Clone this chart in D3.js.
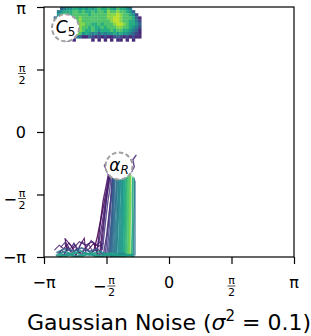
<!DOCTYPE html>
<html>
<head>
<meta charset="utf-8">
<script src="https://cdn.jsdelivr.net/npm/d3@7"></script>
<style>
  body { margin: 0; background: #fff; }
  text { font-family: "DejaVu Sans", sans-serif; }
</style>
</head>
<body>
<div id="chart"></div>
<script>
const svgWidth = 311;
const svgHeight = 336;

// angles in degrees, axis labelled in multiples of pi
const tickValues = [-180, -90, 0, 90, 180];
const tickLabels = [["−", "π"], ["−", "π", "2"], ["", "0"], ["", "π", "2"], ["", "π"]];

// C5 density (rows from psi = 180 downward, 4.5 deg bins, phi from -166)
const densityPhi0 = -166;
const densityStep = 4.5;
const densityRows = [
  "0034556656565676676576654000",
  "0456667767667677687787765300",
  "0567667777767777788898776520",
  "3566777787777777788998777631",
  "4667767787777777778998776642",
  "4667778888776676777899876653",
  "3667787987767667677788776542",
  "2567789987667656667677665431",
  "0346778875654535455656554321",
  "0023455431132121211232121211",
  "0000101000001010101011010100"
];

// trajectories [phi, psi] and their colour position (0 = early / purple)
const jitterTraj = [
  [[-160,-178],[-155,-170],[-150,-175],[-145,-165],[-140,-176],[-133,-168],[-126,-177],[-120,-166],[-113,-175],[-106,-170],[-100,-178]],
  [[-158,-172],[-152,-178],[-147,-168],[-141,-172],[-136,-162],[-130,-175],[-122,-170],[-116,-161],[-110,-172],[-104,-167],[-96,-176]],
  [[-150,-160],[-146,-172],[-150,-153],[-140,-165],[-134,-178],[-128,-163],[-122,-153],[-120,-172],[-115,-168],[-108,-160],[-103,-175]],
  [[-156,-166],[-149,-158],[-143,-170],[-137,-160],[-131,-169],[-125,-158],[-118,-165],[-112,-156],[-106,-164],[-99,-158],[-96,-168]],
  [[-165,-170],[-158,-163],[-152,-168],[-144,-160],[-138,-168],[-129,-158],[-120,-163],[-110,-158],[-102,-165],[-94,-160]]
];
const jitterColor = [0.02, 0.08, 0.0, 0.12, 0.05];

const bundleTraj = [
  [[-108,-170],[-103,-150],[-97,-120],[-92,-95],[-88,-75],[-86,-55]],
  [[-104,-178],[-100,-140],[-95,-100],[-90,-75],[-86,-55]],
  [[-100,-180],[-97,-150],[-92,-110],[-88,-80],[-85,-60]],
  [[-98,-175],[-94,-135],[-90,-95],[-86,-70],[-84,-50]],
  [[-102,-165],[-96,-130],[-93,-110],[-90,-88],[-87,-62],[-90,-50]],
  [[-95,-180],[-90,-150],[-86,-115],[-83,-90],[-80,-62],[-88,-45]],
  [[-92,-178],[-88,-140],[-84,-100],[-82,-70],[-79,-50]],
  [[-96,-170],[-91,-125],[-88,-100],[-85,-80],[-83,-58]],
  [[-90,-180],[-87,-150],[-84,-110],[-82,-75],[-81,-52]],
  [[-88,-180],[-84,-140],[-81,-100],[-80,-65],[-78,-50]],
  [[-86,-176],[-84,-150],[-82,-120],[-81,-85],[-80,-56]],
  [[-85,-178],[-82,-130],[-80,-90],[-78,-60]],
  [[-84,-180],[-83,-160],[-81,-125],[-80,-95],[-79,-58]],
  [[-83,-180],[-81,-145],[-79,-105],[-78,-75],[-77,-54]],
  [[-82,-180],[-80,-140],[-77,-100],[-76,-70],[-75,-52]],
  [[-80,-176],[-78,-120],[-75,-80],[-74,-55]],
  [[-79,-180],[-78,-155],[-76,-115],[-75,-85],[-75,-57]],
  [[-78,-180],[-76,-140],[-73,-100],[-72,-60]],
  [[-77,-178],[-75,-150],[-74,-110],[-73,-70],[-74,-55]],
  [[-76,-180],[-75,-160],[-73,-125],[-72,-90],[-72,-58]],
  [[-75,-179],[-74,-130],[-71,-90],[-70,-55]],
  [[-73,-180],[-72,-145],[-71,-105],[-70,-70],[-69,-54]],
  [[-72,-180],[-71,-140],[-69,-100],[-68,-58]],
  [[-71,-178],[-70,-155],[-69,-120],[-68,-85],[-67,-57]],
  [[-70,-178],[-68,-130],[-67,-80],[-66,-55]],
  [[-69,-180],[-68,-160],[-67,-125],[-67,-90],[-66,-60]],
  [[-68,-180],[-67,-150],[-66,-110],[-66,-72],[-65,-56]],
  [[-67,-180],[-66,-140],[-65,-100],[-64,-60]],
  [[-51,-180],[-51,-140],[-50,-100],[-50,-66]],
  [[-49,-178],[-49,-150],[-49,-110],[-49,-70]],
  [[-66,-180],[-65,-155],[-64,-120],[-64,-85],[-63,-58]],
  [[-65,-178],[-64,-150],[-63,-110],[-62,-70],[-62,-54]],
  [[-64,-180],[-63,-140],[-62,-90],[-61,-56]],
  [[-63,-180],[-62,-160],[-62,-125],[-61,-90],[-61,-60]],
  [[-62,-180],[-61,-150],[-61,-100],[-60,-62]],
  [[-61,-179],[-60,-120],[-60,-80],[-59,-58]],
  [[-60,-180],[-59,-155],[-59,-115],[-58,-80],[-58,-62]],
  [[-59,-180],[-58,-150],[-58,-105],[-57,-60]],
  [[-58,-180],[-57,-140],[-57,-100],[-56,-60]],
  [[-57,-180],[-57,-160],[-56,-120],[-56,-85],[-56,-64]],
  [[-56,-178],[-56,-130],[-55,-90],[-55,-62]],
  [[-54,-180],[-53,-145],[-53,-100],[-52,-64]],
  [[-53,-180],[-53,-160],[-52,-120],[-52,-85],[-52,-66]],
  // fringe around alpha_R
  [[-90,-55],[-93,-48],[-88,-42]],
  [[-54,-58],[-50,-50],[-52,-40],[-47,-33]],
  [[-84,-50],[-80,-40],[-76,-36]]
];
const bundleColor = [
  0.0, 0.03, 0.05, 0.08, 0.1, 0.12, 0.14, 0.16,
  0.2, 0.24, 0.27, 0.3, 0.31, 0.33, 0.36, 0.38, 0.39,
  0.4, 0.43, 0.44, 0.46, 0.48, 0.5, 0.51, 0.52, 0.53, 0.55, 0.57, 0.42, 0.4,
  0.58, 0.6, 0.63, 0.64, 0.66, 0.7, 0.71, 0.72, 0.75, 0.78, 0.8, 0.68, 0.62,
  0.05, 0.1, 0.15
];

const stripTraj = [
  [[-162,-174],[-150,-168],[-138,-172],[-126,-167],[-114,-172],[-102,-168]],
  [[-158,-179],[-145,-175],[-132,-179],[-120,-174],[-106,-178],[-92,-175],[-78,-179],[-64,-174]],
  [[-163,-178],[-150,-172],[-140,-176],[-128,-171],[-115,-177],[-100,-172],[-85,-178],[-70,-175],[-55,-178]],
  [[-160,-176],[-148,-179],[-136,-173],[-124,-178],[-112,-174],[-98,-179],[-84,-174],[-70,-179],[-52,-176]],
  [[-161,-180],[-146,-177],[-130,-180],[-116,-176],[-100,-180],[-86,-177],[-72,-180],[-58,-177],[-50,-179]]
];
const stripColor = [0.3, 0.4, 0.5, 0.6, 0.55];

// state markers
const states = [
  {name: "C", sub: "5", subItalic: false, phi: -149, psi: 150},
  {name: "α", sub: "R", subItalic: true, phi: -72, psi: -49}
];

const x = d3.scaleLinear().domain([-180, 180]).range([44, 294]);
const y = d3.scaleLinear().domain([-180, 180]).range([257, 7]);

const svg = d3.select("#chart").append("svg")
    .attr("width", svgWidth)
    .attr("height", svgHeight);

svg.append("clipPath").attr("id", "plot")
  .append("rect")
    .attr("x", 44).attr("y", 7).attr("width", 250).attr("height", 250);

const plot = svg.append("g").attr("clip-path", "url(#plot)");

// density cells
const cells = [];
densityRows.forEach((row, r) => {
  row.split("").forEach((ch, c) => {
    const v = +ch;
    if (v > 0) cells.push({phi: densityPhi0 + c * densityStep, psi: 180 - r * densityStep, v: v});
  });
});
const cw = x(densityStep) - x(0);
plot.selectAll("rect.cell")
  .data(cells)
  .enter()
  .append("rect")
    .attr("class", "cell")
    .attr("x", d => x(d.phi))
    .attr("y", d => y(d.psi))
    .attr("width", cw + 0.3)
    .attr("height", cw + 0.3)
    .attr("fill", d => d3.interpolateViridis(Math.min(0.9, d.v / 10 + 0.02)));

const line = d3.line().x(d => x(d[0])).y(d => y(d[1]));

function drawTraj(cls, data, colors, width) {
  plot.selectAll("path." + cls)
    .data(data)
    .enter()
    .append("path")
      .attr("class", cls)
      .attr("d", line)
      .attr("fill", "none")
      .attr("stroke", (d, i) => d3.interpolateViridis(colors[i]))
      .attr("stroke-width", width)
      .attr("stroke-opacity", 0.85);
}
drawTraj("jitter", jitterTraj, jitterColor, 1.1);
drawTraj("bundle", bundleTraj, bundleColor, 1.4);
drawTraj("strip", stripTraj, stripColor, 1.8);

// state circles
const st = svg.selectAll("g.state")
  .data(states)
  .enter()
  .append("g")
    .attr("class", "state")
    .attr("transform", d => `translate(${x(d.phi)},${y(d.psi)})`);

st.append("circle")
    .attr("r", 13.5)
    .attr("fill", "#fff")
    .attr("stroke", "#a0a0a0")
    .attr("stroke-width", 2)
    .attr("stroke-dasharray", "4.5,2.5");

const lbl = st.append("text")
    .attr("text-anchor", "middle")
    .attr("y", 5)
    .attr("font-size", 17);
lbl.append("tspan")
    .attr("font-style", "italic")
    .text(d => d.name);
lbl.append("tspan")
    .attr("font-size", 12)
    .attr("dy", 3)
    .attr("font-style", d => d.subItalic ? "italic" : "normal")
    .text(d => d.sub);

// spines
svg.append("rect")
    .attr("x", 44).attr("y", 7).attr("width", 250).attr("height", 250)
    .attr("fill", "none")
    .attr("stroke", "#000")
    .attr("stroke-width", 1.2);

// axes with tick marks only
const axX = svg.append("g")
    .attr("transform", "translate(0,257)")
    .call(d3.axisBottom(x).tickValues(tickValues).tickSize(7).tickFormat(""));
const axY = svg.append("g")
    .attr("transform", "translate(44,0)")
    .call(d3.axisLeft(y).tickValues(tickValues).tickSize(7).tickFormat(""));
[axX, axY].forEach(a => {
  a.select(".domain").remove();
  a.selectAll(".tick line").attr("stroke", "#000").attr("stroke-width", 1.2);
});

function drawLabel(g, lab, cx, cy, anchorRight) {
  // cx: tick position (x axis) or right edge (y axis); cy: label centre
  const [sign, top, bottom] = lab;
  if (!bottom) {
    g.append("text")
        .attr("font-size", 16)
        .attr("x", cx)
        .attr("y", Math.max(cy + 6, 14))
        .attr("text-anchor", anchorRight ? "end" : "middle")
        .text(sign + top);
    return;
  }
  // stacked fraction
  const fw = 8;
  const fy = cy + 4;
  let fx;
  if (anchorRight) fx = cx - fw / 2;
  else fx = cx + (sign ? 5 : 0);
  if (sign) {
    g.append("text")
        .attr("font-size", 16)
        .attr("x", fx - fw / 2 - 1)
        .attr("y", fy + 6)
        .attr("text-anchor", "end")
        .text(sign);
  }
  g.append("text")
      .attr("font-size", 11)
      .attr("x", fx).attr("y", fy - 2)
      .attr("text-anchor", "middle")
      .text(top);
  g.append("line")
      .attr("x1", fx - fw / 2).attr("x2", fx + fw / 2)
      .attr("y1", fy).attr("y2", fy)
      .attr("stroke", "#000").attr("stroke-width", 0.7);
  g.append("text")
      .attr("font-size", 11)
      .attr("x", fx).attr("y", fy + 10)
      .attr("text-anchor", "middle")
      .text(bottom);
}

const labels = svg.append("g");
tickValues.forEach((v, i) => {
  drawLabel(labels, tickLabels[i], x(v), 282, false);
  drawLabel(labels, tickLabels[i], 26, y(v), true);
});

svg.append("text")
    .attr("x", 169)
    .attr("y", 330)
    .attr("text-anchor", "middle")
    .attr("font-size", 22)
    .html("Gaussian Noise (<tspan font-style='italic'>σ</tspan><tspan font-size='15' dy='-9'>2</tspan><tspan dy='9'> = 0.1)</tspan>");
</script>
</body>
</html>
